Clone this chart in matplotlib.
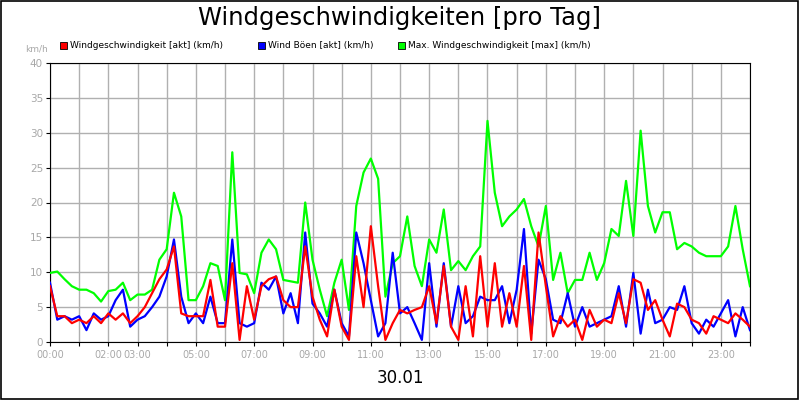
import matplotlib

matplotlib.use("Agg")

import matplotlib.pyplot as plt  # noqa: E402
from matplotlib.patches import Rectangle  # noqa: E402

# 15-minute samples, hours 0..24
hours = [i * 0.25 for i in range(97)]

wind_max = [
    9.9, 10.1, 9.0, 8.0, 7.5, 7.5, 7.0, 5.8, 7.3, 7.5, 8.5, 6.0,
    6.8, 6.8, 7.5, 11.8, 13.3, 21.4, 18.0, 6.0, 6.0, 8.0, 11.3, 10.9,
    6.0, 27.2, 9.9, 9.7, 7.0, 12.8, 14.7, 13.3, 8.9, 8.7, 8.5, 20.0,
    11.8, 7.5, 3.7, 8.5, 11.8, 4.6, 19.5, 24.3, 26.3, 23.4, 6.5, 11.3,
    12.3, 18.0, 10.9, 8.0, 14.7, 12.8, 19.0, 10.3, 11.6, 10.3, 12.3, 13.7,
    31.7, 21.4, 16.6, 18.0, 19.0, 20.5, 16.6, 13.7, 19.5, 8.9, 12.8, 7.0,
    8.9, 8.9, 12.8, 8.9, 11.3, 16.2, 15.2, 23.1, 15.2, 30.3, 19.5, 15.7,
    18.6, 18.6, 13.3, 14.2, 13.7, 12.8, 12.3, 12.3, 12.3, 13.7, 19.5, 13.3,
    8.0,
]

wind_gust = [
    8.5, 3.2, 3.7, 3.2, 3.7, 1.7, 4.1, 3.2, 3.7, 6.0, 7.5, 2.2,
    3.2, 3.7, 5.0, 6.5, 9.4, 14.7, 6.5, 2.7, 4.1, 2.7, 6.5, 2.7,
    2.7, 14.7, 2.7, 2.2, 2.7, 8.5, 7.5, 9.4, 4.1, 7.0, 2.7, 15.7,
    5.5, 4.1, 2.2, 7.5, 2.7, 0.8, 15.7, 11.3, 6.0, 0.8, 2.7, 12.8,
    4.1, 5.0, 2.7, 0.3, 11.3, 2.2, 11.3, 2.2, 8.0, 2.7, 3.7, 6.5,
    6.0, 6.0, 8.0, 2.7, 7.5, 16.2, 1.2, 11.8, 9.0, 3.2, 2.7, 7.0,
    2.2, 5.0, 2.2, 2.7, 3.2, 3.7, 8.0, 2.2, 9.9, 1.2, 7.5, 2.7,
    3.2, 5.0, 4.6, 8.0, 2.7, 1.2, 3.2, 2.2, 4.1, 6.0, 0.8, 5.0,
    1.7,
]

wind_now = [
    8.0, 3.7, 3.7, 2.7, 3.2, 2.7, 3.7, 2.7, 4.1, 3.2, 4.1, 2.7,
    3.7, 5.0, 7.0, 9.0, 10.4, 13.7, 4.1, 3.7, 3.7, 3.7, 8.9, 2.2,
    2.2, 11.3, 0.3, 8.0, 3.2, 8.0, 9.0, 9.4, 6.0, 5.0, 5.0, 13.7,
    6.5, 3.2, 0.8, 7.5, 2.2, 0.3, 12.3, 5.0, 16.6, 8.0, 0.3, 2.7,
    4.6, 4.1, 4.6, 5.0, 8.0, 2.7, 10.9, 2.2, 0.3, 8.0, 0.8, 12.3,
    2.2, 11.3, 2.2, 7.0, 2.2, 10.9, 0.3, 15.7, 8.0, 0.8, 3.7, 2.2,
    3.2, 0.3, 4.6, 2.2, 3.2, 2.7, 7.0, 2.7, 9.0, 8.5, 4.6, 6.0,
    3.2, 0.8, 5.5, 5.0, 3.2, 2.7, 1.2, 3.7, 3.2, 2.7, 4.1, 3.2,
    2.2,
]

tick_hours = [0, 2, 3, 5, 7, 9, 11, 13, 15, 17, 19, 21, 23]
tick_labels = [f"{h:02d}:00" for h in tick_hours]
y_ticks = list(range(0, 45, 5))

GRAY = "#b0b0b0"
TXT = "#a8a8a8"

fig = plt.figure(figsize=(8, 4), dpi=100)
fig.patches.append(Rectangle((0.001, 0.002), 0.997, 0.996, transform=fig.transFigure,
                             fill=False, edgecolor="black", linewidth=1.2))

ax = fig.add_axes([0.0625, 0.145, 0.875, 0.6975])
ax.plot(hours, wind_max, color="#00ff00", lw=1.6, zorder=3)
ax.plot(hours, wind_gust, color="#0000ff", lw=1.6, zorder=4)
ax.plot(hours, wind_now, color="#ff0000", lw=1.6, zorder=5)

ax.set_xlim(0, 24)
ax.set_ylim(0, 40)
ax.set_xticks(range(25))
ax.set_xticklabels(["" for _ in range(25)])
ax.set_yticks(y_ticks)
ax.set_yticklabels([str(v) for v in y_ticks], color=TXT, fontsize=7.5)
for h, lab in zip(tick_hours, tick_labels):
    ax.text(h, -1.2, lab, ha="center", va="top", color=TXT, fontsize=7)
ax.tick_params(axis="both", length=3, color="black", pad=2)
ax.grid(True, color=GRAY, lw=1)
ax.set_axisbelow(True)
for s in ax.spines.values():
    s.set_color("black")

fig.text(0.5, 0.955, "Windgeschwindigkeiten [pro Tag]", ha="center", va="center", fontsize=17.5)
fig.text(0.5, 0.055, "30.01", ha="center", va="center", fontsize=12)
fig.text(0.046, 0.878, "km/h", ha="center", va="center", color=TXT, fontsize=6.5)

legend = [
    (0.075, "#ff0000", "Windgeschwindigkeit [akt] (km/h)"),
    (0.322, "#0000ff", "Wind Böen [akt] (km/h)"),
    (0.497, "#00ff00", "Max. Windgeschwindigkeit [max] (km/h)"),
]
for x, col, lab in legend:
    fig.patches.append(Rectangle((x, 0.877), 0.009, 0.018, transform=fig.transFigure,
                                 facecolor=col, edgecolor="black", linewidth=0.6))
    fig.text(x + 0.013, 0.886, lab, ha="left", va="center", fontsize=6.5)

fig.savefig("out.png", dpi=100)
